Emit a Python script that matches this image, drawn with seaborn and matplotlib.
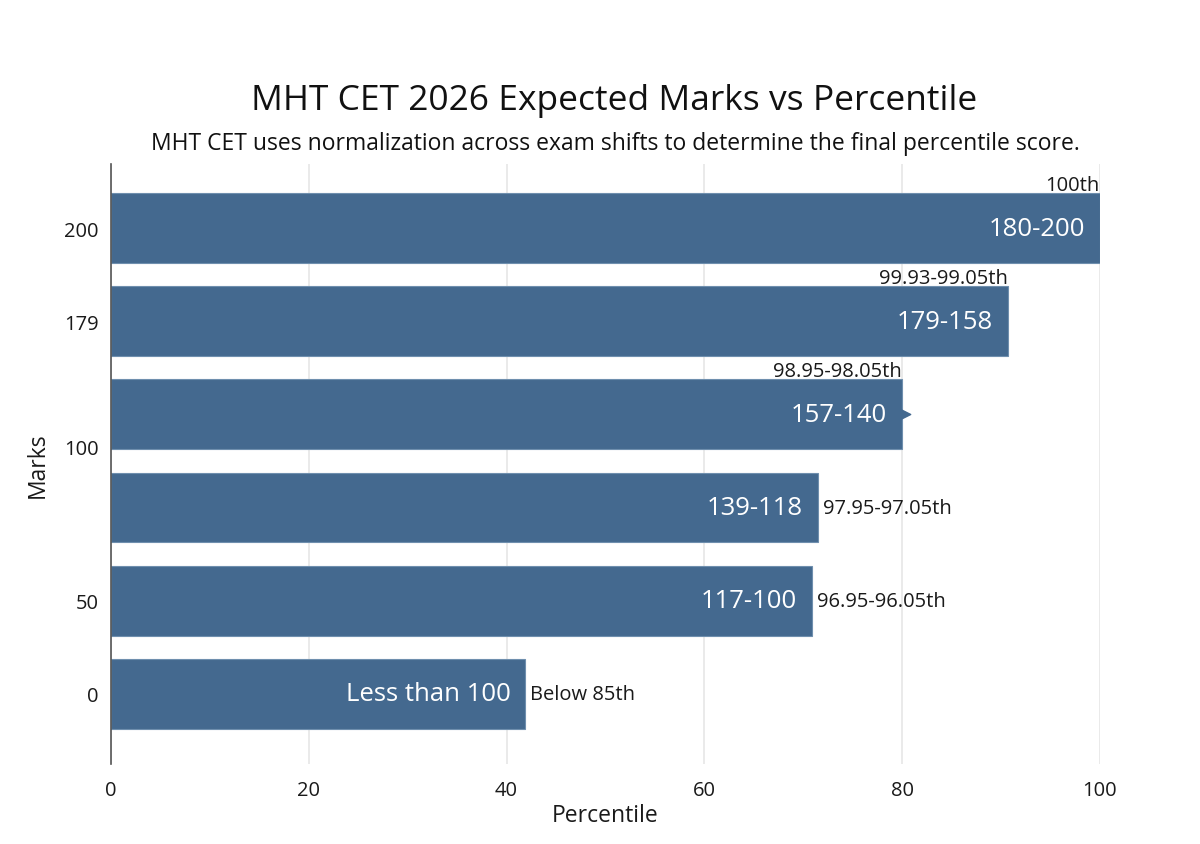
import pandas as pd
import numpy as np
import matplotlib.pyplot as plt
import seaborn as sns

sns.set_style('white')
plt.rcParams['font.family'] = ['Open Sans', 'DejaVu Sans']

# 数据
mark_ranges = ['180-200', '179-158', '157-140', '139-118', '117-100', 'Less than 100']
bar_values = [100, 90.7, 80, 71.5, 70.9, 41.9]
percentile_labels = ['100th', '99.93-99.05th', '98.95-98.05th',
                     '97.95-97.05th', '96.95-96.05th', 'Below 85th']
ytick_labels = ['200', '179', '100', '', '50', '0']
ytick_pos = [0, 1, 2.35, 3, 4, 5]

df = pd.DataFrame({'range': mark_ranges, 'pct': bar_values, 'plabel': percentile_labels})

fig = plt.figure(figsize=(12, 8.45), dpi=100)
ax = fig.add_axes([0.0925, 0.095, 0.824, 0.71])

sns.barplot(data=df, x='pct', y='range', orient='h', color='#44698f',
            saturation=1, width=0.75, edgecolor='#6f8fae', linewidth=0.8, ax=ax)

# 第三根柱子末端的小三角
ax.scatter([bar_values[2]], [2], marker='>', s=140, color='#44698f', zorder=3, clip_on=False)

for i, row in df.iterrows():
    ax.text(row['pct'] - 1.5, i, row['range'], ha='right', va='center',
            color='white', fontsize=18.5)
    if i < 3:
        ax.text(row['pct'], i - 0.36, row['plabel'], ha='right', va='bottom',
                fontsize=14.5, color='#1a1a1a')
    else:
        ax.text(row['pct'] + 0.5, i, row['plabel'], ha='left', va='center',
                fontsize=14.5, color='#1a1a1a')

ax.set_xlim(0, 100)
ax.set_ylim(5.75, -0.69)
ax.set_xticks([0, 20, 40, 60, 80, 100])
ax.set_yticks(ytick_pos)
ax.set_yticklabels(ytick_labels)
ax.tick_params(axis='y', length=3, width=1, color='#444444', labelsize=14.5,
               labelcolor='#1a1a1a', pad=6)
ax.tick_params(axis='x', length=0, labelsize=14.5, labelcolor='#1a1a1a', pad=12)
ax.xaxis.grid(True, color='#e6e6e6', linewidth=1.2)
ax.set_axisbelow(True)
for s in ['top', 'right', 'bottom']:
    ax.spines[s].set_visible(False)
ax.spines['left'].set_color('#555555')
ax.spines['left'].set_linewidth(1.2)

ax.set_xlabel('Percentile', fontsize=16.5, labelpad=2, color='#1a1a1a')
ax.set_ylabel('Marks', fontsize=16.5, labelpad=10, color='#1a1a1a')

fig.text(0.512, 0.881, 'MHT CET 2026 Expected Marks vs Percentile',
         ha='center', va='center', fontsize=25.5, color='#111111')
fig.text(0.513, 0.83, 'MHT CET uses normalization across exam shifts to determine the final percentile score.',
         ha='center', va='center', fontsize=16.5, color='#111111')

plt.savefig('out.png', dpi=100)
plt.close()
